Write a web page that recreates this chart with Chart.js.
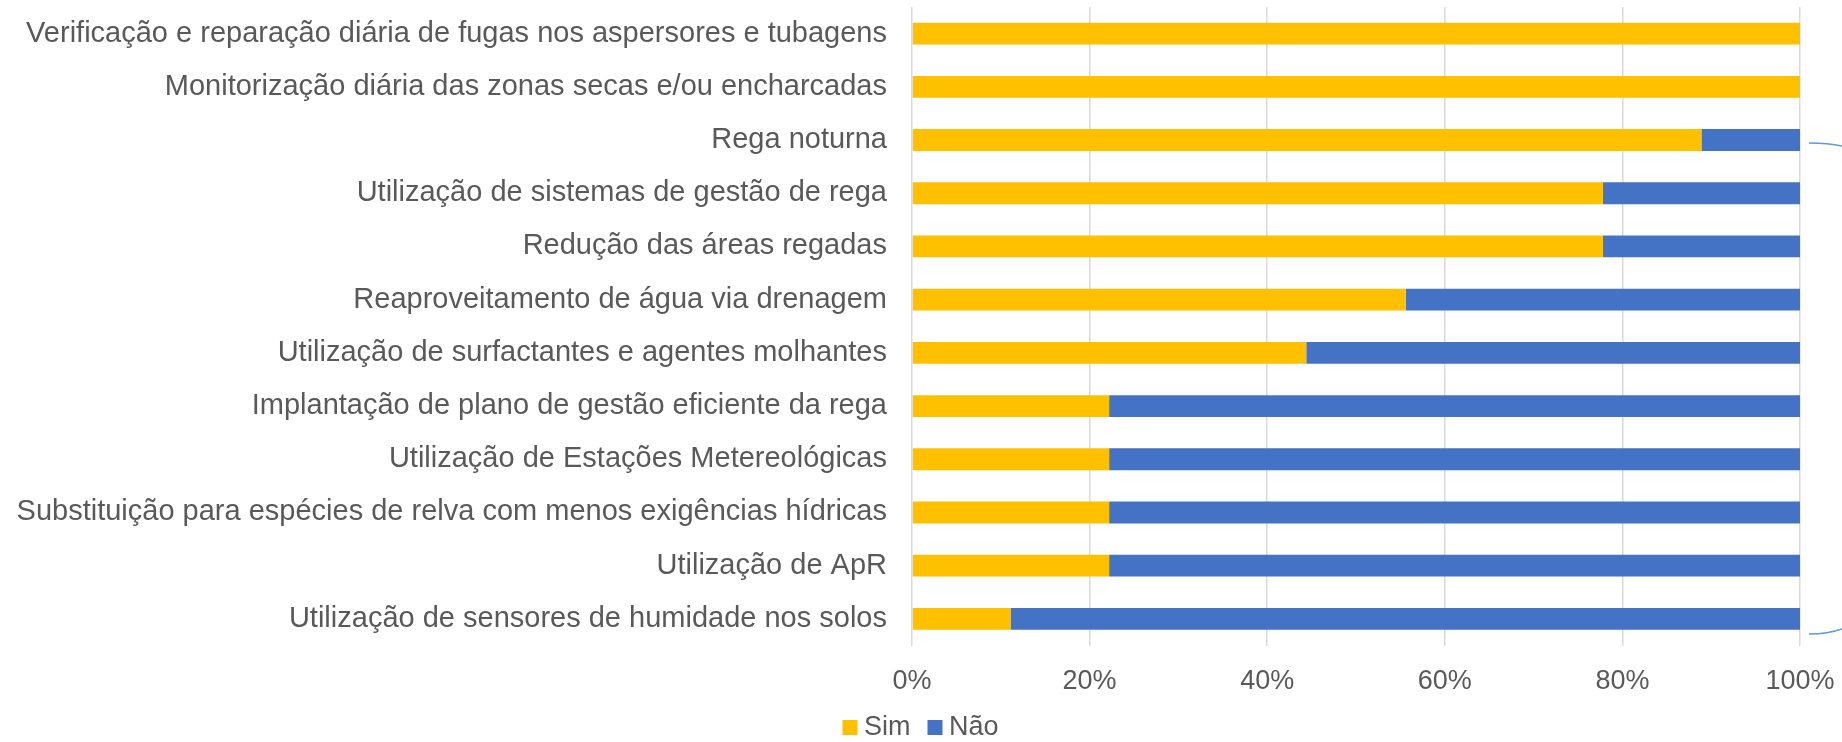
<!DOCTYPE html>
<html>
<head>
<meta charset="utf-8">
<script src="https://cdn.jsdelivr.net/npm/chart.js@4"></script>
<style>
  html, body { margin: 0; padding: 0; background: #fff; }
  #wrap { width: 1842px; height: 742px; }
</style>
</head>
<body>
<div id="wrap"><canvas id="myChart-rega"></canvas></div>
<script>
// Praticas de rega (percentagem de respostas)
const categorias = [
    'Verificação e reparação diária de fugas nos aspersores e tubagens',
    'Monitorização diária das zonas secas e/ou encharcadas',
    'Rega noturna',
    'Utilização de sistemas de gestão de rega',
    'Redução das áreas regadas',
    'Reaproveitamento de água via drenagem',
    'Utilização de surfactantes e agentes molhantes',
    'Implantação de plano de gestão eficiente da rega',
    'Utilização de Estações Metereológicas',
    'Substituição para espécies de relva com menos exigências hídricas',
    'Utilização de ApR',
    'Utilização de sensores de humidade nos solos'
];
const sim = [100, 100, 88.9, 77.8, 77.8, 55.6, 44.4, 22.2, 22.2, 22.2, 22.2, 11.1];
const nao = [0, 0, 11.1, 22.2, 22.2, 44.4, 55.6, 77.8, 77.8, 77.8, 77.8, 88.9];
const ticksX = [0, 20, 40, 60, 80, 100];

const familia = 'Liberation Sans';
const cinza = '#595959';

// bocados de linha azul na margem direita + legenda um pouco mais a direita
const linhasSoltas = {
    id: 'linhasSoltas',
    beforeDraw(chart) {
        chart.legend.left += 24;
        chart.legend.right += 24;
    },
    afterDraw(chart) {
        const c = chart.ctx;
        c.save();
        c.strokeStyle = '#5B9BD5';
        c.lineWidth = 1.5;
        c.beginPath();
        c.moveTo(1809, 143);
        c.quadraticCurveTo(1828, 143, 1842, 146);
        c.moveTo(1809, 634);
        c.quadraticCurveTo(1828, 634, 1842, 629);
        c.stroke();
        c.restore();
    }
};

const ctx1 = document.getElementById('myChart-rega').getContext('2d');
const myChart1 = new Chart(ctx1, {
    type: 'bar',
    data: {
        labels: categorias,
        datasets: [{
            label: 'Sim',
            data: sim,
            backgroundColor: '#FFC000',
            borderWidth: 0
        }, {
            label: 'Não',
            data: nao,
            backgroundColor: '#4472C4',
            borderWidth: 0
        }]
    },
    options: {
        indexAxis: 'y',
        responsive: true,
        maintainAspectRatio: false,
        animation: false,
        categoryPercentage: 1,
        barPercentage: 0.41,
        layout: { padding: { top: 7, right: 42, left: 0, bottom: -9 } },
        scales: {
            x: {
                stacked: true,
                min: 0,
                max: 100,
                afterBuildTicks: (scale) => { scale.ticks = ticksX.map(v => ({ value: v })); },
                afterFit: (scale) => {
                    scale.paddingLeft = 0;
                    scale.paddingRight = 0;
                    scale.height = 44.5;
                },
                ticks: {
                    callback: (v) => v + '%',
                    font: { family: familia, size: 27, lineHeight: 1 },
                    color: cinza,
                    padding: 22.5,
                    maxRotation: 0
                },
                grid: { color: '#D9D9D9', lineWidth: 1.5, drawTicks: false },
                border: { display: false }
            },
            y: {
                stacked: true,
                afterFit: (scale) => {
                    scale.width = 912;
                    scale.paddingTop = 0;
                    scale.paddingBottom = 0;
                },
                ticks: { font: { family: familia, size: 29 }, color: cinza, padding: 25, autoSkip: false },
                grid: { display: false, drawTicks: false },
                border: { display: false }
            }
        },
        plugins: {
            legend: {
                position: 'bottom',
                labels: {
                    font: { family: familia, size: 27 },
                    color: cinza,
                    usePointStyle: true,
                    pointStyle: 'rect',
                    boxWidth: 1,
                    boxHeight: 15,
                    padding: 24
                }
            },
            tooltip: { enabled: false }
        }
    },
    plugins: [linhasSoltas]
});
</script>
</body>
</html>
